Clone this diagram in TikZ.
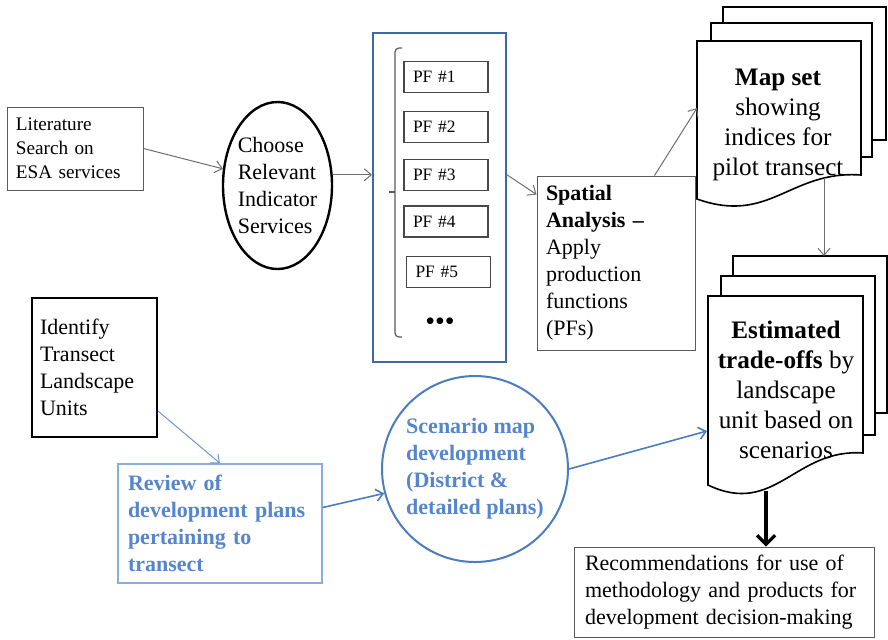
\documentclass[tikz,border=0pt]{standalone}
\usepackage{fontspec}
\setmainfont{Liberation Serif}
\usetikzlibrary{shapes.geometric, arrows.meta, calc}
\definecolor{panelblue}{HTML}{3F68A6}
\definecolor{circleblue}{HTML}{4A7CC0}
\definecolor{reviewblue}{HTML}{8AADDE}
\definecolor{textblue}{HTML}{5585CC}
\definecolor{boxgray}{HTML}{5A5A5A}
\definecolor{linegray}{HTML}{6E6E6E}

\begin{document}
\begin{tikzpicture}[x=0.5pt, y=-0.5pt]
    % Styles
    \tikzstyle{block} = [rectangle, draw=boxgray, line width=0.5pt, align=left, inner ysep=0pt, inner xsep=4.5pt, font=\fontsize{11}{13.5}\selectfont]
    \tikzstyle{pfbox} = [rectangle, draw=boxgray!80!black, line width=0.6pt, align=left, inner ysep=0pt, inner xsep=4.5pt, minimum width=42pt, minimum height=15.5pt, text width=33pt, font=\fontsize{8.7}{10}\selectfont]
    \tikzstyle{sheet} = [draw, fill=white, line width=0.8pt]
    \tikzstyle{doctext} = [align=center, inner sep=0pt, font=\fontsize{12.6}{15}\selectfont]
    \tikzstyle{line} = [draw=linegray, line width=0.5pt, -{Straight Barb[length=3.5pt, width=6pt]}]
    \tikzstyle{blueline} = [draw=circleblue, line width=0.8pt, -{Straight Barb[length=3.5pt, width=6pt]}]
    \tikzstyle{bigline} = [draw, line width=1.6pt, -{Straight Barb[length=4.5pt, width=9pt]}]

    \useasboundingbox (0,0) rectangle (888,639);

    % Stacked pages
    \draw[sheet] (723,7) rectangle (886,140);
    \draw[sheet] (711,23) rectangle (872,157);
    \draw[sheet] (697,199) -- (697,41) -- (861,41) -- (861,175) .. controls (790,170) and (770,225) .. cycle;
    \draw[sheet] (733,256) rectangle (887,413);
    \draw[sheet] (721,276) rectangle (875,435);
    \draw[sheet] (708,485) -- (708,296) -- (863,296) -- (863,453) .. controls (795,448) and (775,517) .. cycle;

    % Nodes
    \node [block, minimum width=68pt, minimum height=41.5pt, text width=59pt, font=\fontsize{9.6}{12}\selectfont] (lit) at (75,148.5) {Literature\\Search on\\ESA services};
    \node [ellipse, draw, line width=1.2pt, minimum width=54.5pt, minimum height=83.5pt, inner sep=0pt,
           label={[align=left, font=\fontsize{11}{13.5}\selectfont]center:Choose\\Relevant\\Indicator\\Services}] (choose) at (277.5,185.5) {};
    \node [draw=panelblue, line width=1pt, minimum width=66.5pt, minimum height=164.5pt, inner sep=0pt] (pfpanel) at (439.5,197.5) {};
    \foreach \i/\x/\y in {1/446/77, 2/446/127, 3/446/175, 4/446/221.5, 5/448.5/272}
        \node [pfbox] (pf\i) at (\x,\y) {PF \#\i};
    \node [font=\fontsize{14}{14}\selectfont, inner sep=0pt] (dots) at (440,324) {•••};
    \node [block, minimum width=79pt, minimum height=87pt, text width=70pt] (spatial) at (616,263) {\textbf{Spatial}\\\textbf{Analysis –}\\Apply\\production\\functions\\(PFs)};
    \node [doctext] (mapset) at (778,124.5) {\textbf{Map set}\\showing\\indices for\\pilot transect};
    \node [doctext] (estimate) at (786,389.5) {\textbf{Estimated}\\\textbf{trade-offs} by\\landscape\\unit based on\\scenarios};
    \node [block, draw=black, line width=1.2pt, minimum width=62.5pt, minimum height=69.5pt, text width=54.5pt, inner xsep=4pt] (identify) at (94.5,367.5) {Identify\\Transect\\Landscape\\Units};
    \node [block, draw=reviewblue, line width=0.7pt, text=textblue, font=\fontsize{11}{13.5}\selectfont\bfseries, minimum width=102pt, minimum height=59.5pt, text width=92pt, inner xsep=5pt] (review) at (220,523.5) {Review of\\development plans\\pertaining to\\transect};
    \node [circle, draw=circleblue, line width=1pt, minimum size=93pt, inner sep=0pt, align=left, text=textblue, font=\fontsize{11}{13.5}\selectfont\bfseries] (scenario) at (475,469) {Scenario map\\development\\(District \&\\detailed plans)};
    \node [block, minimum width=150pt, minimum height=45pt, text width=139pt, inner xsep=5.5pt] (recommend) at (724,592) {Recommendations for use of\\methodology and products for\\development decision-making};

    % Bracket round the PFs
    \draw [boxgray, line width=0.6pt, rounded corners=2pt] (402,48) -- (395,48) -- (395,337) -- (402,337);
    \draw [boxgray, line width=0.6pt] (395,192) -- (389,192);

    % Sheet edges
    \coordinate (mapleft) at (697,108);
    \coordinate (mapfoot) at (824,178);
    \coordinate (esthead) at (824,256);
    \coordinate (estleft) at (707,431);
    \coordinate (estfoot) at (766,491);

    % Connections
    \path [line] (lit.east) -- (choose.163);
    \path [line] (choose.11) -- (choose.11 -| pfpanel.west);
    \path [line] (pfpanel.east |- choose.11) -- ([yshift=-9.5pt]spatial.north west);
    \path [line] ([xshift=-20.5pt]spatial.north east) -- (mapleft);
    \path [line] (mapfoot) -- (esthead);
    \path [blueline, line width=0.5pt, draw=circleblue!80] ([yshift=13.5pt]identify.south east) -- (review.north);
    \path [blueline] ([yshift=8pt]review.east) -- (scenario.195);
    \path [blueline] (scenario.east) -- (estleft);
    \path [bigline] (estfoot) -- (estfoot |- recommend.north);

\end{tikzpicture}
\end{document}
